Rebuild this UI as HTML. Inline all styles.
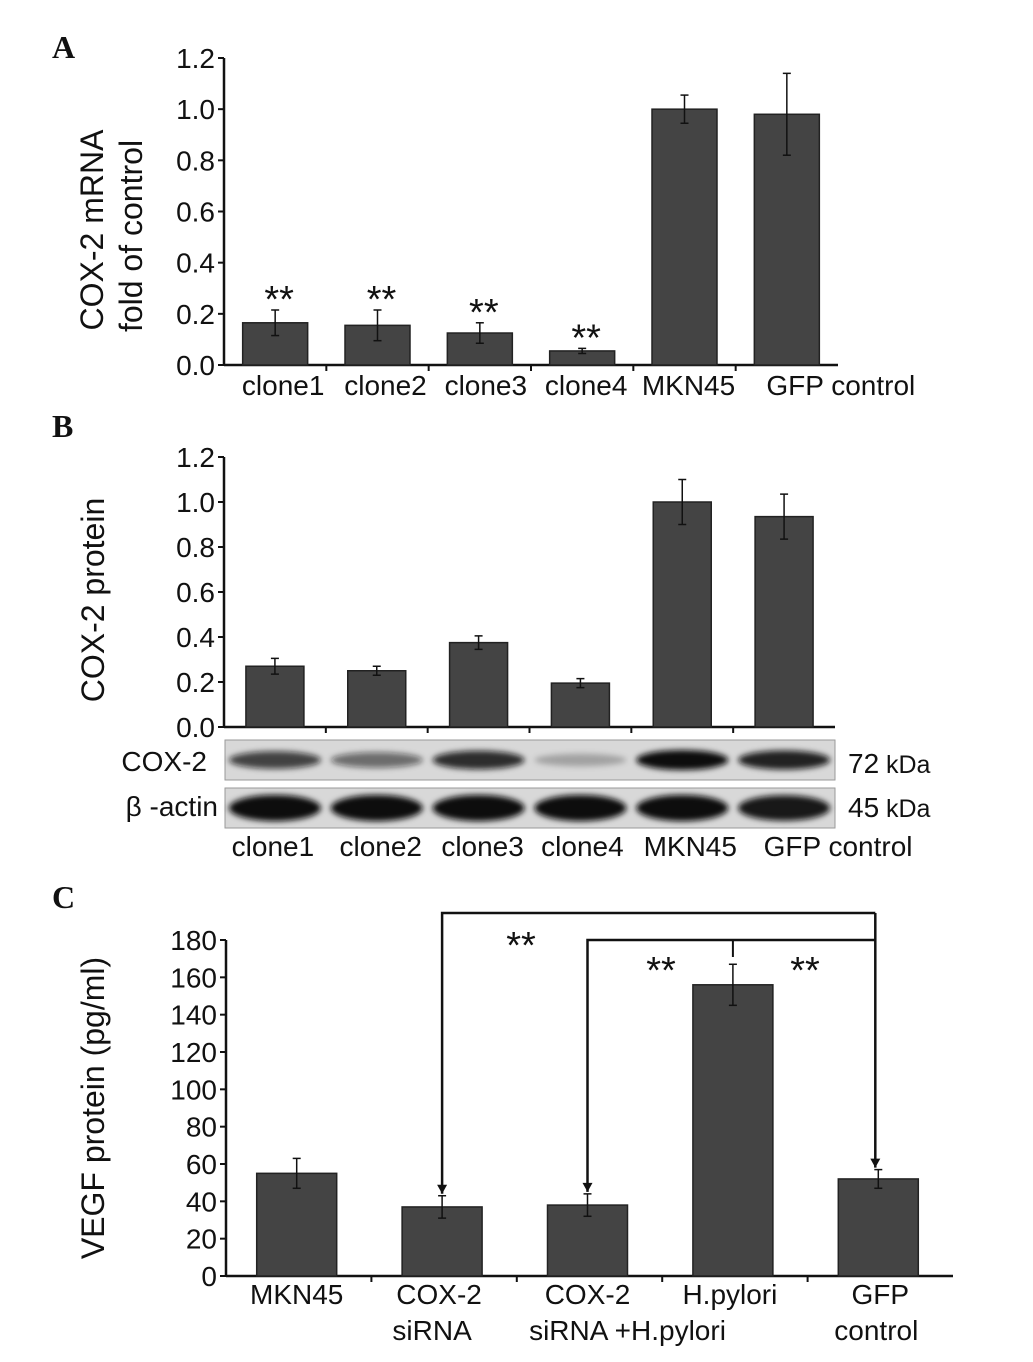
<!DOCTYPE html>
<html><head><meta charset="utf-8"><style>
body{margin:0;background:#fff;}
svg text{font-family:"Liberation Sans",sans-serif;fill:#111;}
svg text.pl{font-family:"Liberation Serif",serif;font-weight:bold;}
</style></head><body>
<svg id="fig" width="1033" height="1357" viewBox="0 0 1033 1357" xmlns="http://www.w3.org/2000/svg">
<defs><filter id="blur" x="-20%" y="-100%" width="140%" height="300%"><feGaussianBlur stdDeviation="3"/></filter></defs>
<text class="pl" x="52" y="58" font-size="32">A</text>
<text class="pl" x="52" y="437" font-size="32">B</text>
<text class="pl" x="52" y="908" font-size="32">C</text>
<g id="gA"></g>
<g id="gB"></g>
<g id="gC"></g>
</svg>
<script>
const catsA=["clone1","clone2","clone3","clone4","MKN45","GFP  control"];
const valsA=[0.165,0.155,0.125,0.055,1.0,0.98];
const errA=[0.05,0.06,0.04,0.01,0.055,0.16];
const starsA=[true,true,true,true,false,false];
const ticksA=[0,0.2,0.4,0.6,0.8,1.0,1.2];
const catsB=["clone1","clone2","clone3","clone4","MKN45","GFP control"];
const valsB=[0.27,0.25,0.375,0.195,1.0,0.935];
const errB=[0.035,0.02,0.03,0.02,0.1,0.1];
const ticksB=[0,0.2,0.4,0.6,0.8,1.0,1.2];
const coxBand=[0.75,0.55,0.85,0.25,1.0,0.9];
const actinBand=[1,1,1,1,1,0.95];
const catsC=[["MKN45"],["COX-2","siRNA"],["COX-2","siRNA +H.pylori"],["H.pylori"],["GFP","control"]];
const valsC=[55,37,38,156,52];
const errC=[8,6,6,11,5];
const ticksC=[0,20,40,60,80,100,120,140,160,180];
const NS="http://www.w3.org/2000/svg";
function el(p,t,a){const e=document.createElementNS(NS,t);for(const k in a)e.setAttribute(k,a[k]);p.appendChild(e);return e;}
function txt(p,x,y,s,size,anchor){const e=el(p,'text',{x:x,y:y,'font-size':size,'text-anchor':anchor||'middle'});e.textContent=s;return e;}
function panel(g,o){
  const y=v=>o.y0-(v-o.vmin)/(o.vmax-o.vmin)*(o.y0-o.y1);
  const step=(o.xEnd-o.x0)/o.n;
  const cx=i=>o.x0+step*(i+0.5)+(o.shift||0);
  const ax=el(g,'line',{x1:o.x0,y1:o.y1,x2:o.x0,y2:o.y0,stroke:'#111','stroke-width':2.5});
  
  const xl=el(g,'line',{x1:o.x0,y1:o.y0,x2:o.xEnd,y2:o.y0,stroke:'#111','stroke-width':2.5});
  
  o.ticks.forEach(t=>{el(g,'line',{x1:o.x0-6,y1:y(t),x2:o.x0,y2:y(t),stroke:'#111','stroke-width':2});
    const tl=txt(g,o.x0-9,y(t)+10,o.fmt(t),o.tfs||28,'end');});
  for(let i=1;i<o.n;i++)el(g,'line',{x1:o.x0+step*i,y1:o.y0,x2:o.x0+step*i,y2:o.y0+6,stroke:'#111','stroke-width':2});
  o.vals.forEach((v,i)=>{
    const b=el(g,'rect',{x:cx(i)-o.bw/2,y:y(v),width:o.bw,height:o.y0-y(v),fill:'#444',stroke:'#222','stroke-width':1.5});
    
    const e=o.err[i];
    el(g,'line',{x1:cx(i),y1:y(v+e),x2:cx(i),y2:y(v-e),stroke:'#111','stroke-width':1.5});
    el(g,'line',{x1:cx(i)-4,y1:y(v+e),x2:cx(i)+4,y2:y(v+e),stroke:'#111','stroke-width':1.5});
    el(g,'line',{x1:cx(i)-4,y1:y(v-e),x2:cx(i)+4,y2:y(v-e),stroke:'#111','stroke-width':1.5});
    if(o.stars&&o.stars[i]){const s=txt(g,cx(i)+4,y(v+e)+2,'**',38);}
  });
  return {y,cx};
}
const gA=document.getElementById('gA');
const pa=panel(gA,{x0:224,xEnd:838,y0:365,y1:58,vmin:0,vmax:1.2,n:6,bw:65,vals:valsA,err:errA,ticks:ticksA,stars:starsA,fmt:t=>t.toFixed(1)});
const offA=[8,8,6,4,4,54];
catsA.forEach((c,i)=>{const t=txt(gA,pa.cx(i)+offA[i],395,c,28);t.setAttribute('xml:space','preserve');});
let ta=txt(gA,0,0,'COX-2  mRNA',32);ta.setAttribute('transform','translate(103,230) rotate(-90)');ta.setAttribute('xml:space','preserve');

let tb=txt(gA,0,0,'fold of control',32);tb.setAttribute('transform','translate(142,236) rotate(-90)');


const gB=document.getElementById('gB');
const pb=panel(gB,{x0:224,xEnd:835,y0:727,y1:457,vmin:0,vmax:1.2,n:6,bw:58,vals:valsB,err:errB,ticks:ticksB,fmt:t=>t.toFixed(1)});
let tc=txt(gB,0,0,'COX-2 protein',32);tc.setAttribute('transform','translate(104,600) rotate(-90)');

[[740,780,coxBand,'cox2-blot',13],[788,828,actinBand,'actin-blot',17]].forEach(([t,b,arr,nm,h])=>{
  const r=el(gB,'rect',{x:225,y:t,width:610,height:b-t,fill:'#d8d8d8',stroke:'#999','stroke-width':1});
  
  arr.forEach((a,i)=>{const e=el(gB,'ellipse',{cx:pb.cx(i),cy:(t+b)/2,rx:46,ry:h*(0.5+0.5*a)/1.3,fill:'#111','fill-opacity':a,filter:'url(#blur)'});
    });
});
let l1=txt(gB,207,771,'COX-2',28,'end');
let l2=txt(gB,218,816,'β -actin',28,'end');
let k1=txt(gB,848,773,'72',28,'start');
let k1b=txt(gB,886,773,'kDa',25,'start');
let k2=txt(gB,848,817,'45',28,'start');
let k2b=txt(gB,886,817,'kDa',25,'start');
const offB=[-2,4,4,2,8,54];
catsB.forEach((c,i)=>{const t=txt(gB,pb.cx(i)+offB[i],856,c,28);});

const gC=document.getElementById('gC');
const pc=panel(gC,{x0:226,xEnd:953,y0:1276,y1:940,vmin:0,vmax:180,n:5,bw:80,shift:-2,vals:valsC,err:errC,ticks:ticksC,fmt:t=>String(t)});
const offC=[[0],[-3,-10],[0,40],[-3],[2,-2]];
catsC.forEach((c,i)=>c.forEach((s,j)=>{const t=txt(gC,pc.cx(i)+offC[i][j],1304+j*36,s,28);}));
let td=txt(gC,0,0,'VEGF protein (pg/ml)',32);td.setAttribute('transform','translate(104,1108) rotate(-90)');

const yc=pc.y, xr=pc.cx(4)-3;
function bracket(i,yt,name){
  const x=pc.cx(i),yb=yc(valsC[i]+errC[i])-2;
  const p=el(gC,'polyline',{points:`${x},${yb} ${x},${yt} ${xr},${yt}`,fill:'none',stroke:'#111','stroke-width':2.5});
  
  el(gC,'polygon',{points:`${x-5},${yb-9} ${x+5},${yb-9} ${x},${yb}`,fill:'#111'});
}
bracket(1,913,'bracket-outer');bracket(2,940,'bracket-inner');
el(gC,'line',{x1:xr,y1:913,x2:xr,y2:yc(valsC[4]+errC[4])-2,stroke:'#111','stroke-width':2.5});
el(gC,'polygon',{points:`${xr-5},${yc(valsC[4]+errC[4])-11} ${xr+5},${yc(valsC[4]+errC[4])-11} ${xr},${yc(valsC[4]+errC[4])-2}`,fill:'#111'});
el(gC,'line',{x1:pc.cx(3),y1:940,x2:pc.cx(3),y2:957,stroke:'#111','stroke-width':2});
[[521,958],[661,983],[805,983]].forEach(([x,yy])=>{const s=txt(gC,x,yy,'**',38);});
</script>
</body></html>
